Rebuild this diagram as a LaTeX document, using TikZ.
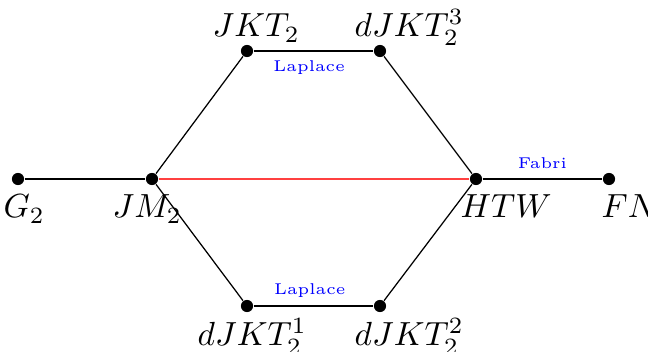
\documentclass[tikz,border=0pt]{standalone}
\usepackage{amsmath,amssymb}
\usepackage{tikz}
\usetikzlibrary{positioning,calc}
\usepackage{xcolor}
\tikzset{
  vertex/.style={circle,fill=black,inner sep=0pt,minimum size=3.9pt},
  vname/.style={inner sep=0pt,anchor=base west,scale=1.07,transform shape},
  elabel/.style={font=\tiny,text=blue,inner sep=0pt},
  every edge/.style={draw,line width=0.4pt},
}
\begin{document}
\begin{tikzpicture}[x=0.32pt,y=-0.32pt]
\useasboundingbox (0,0) rectangle (648,352);

\node[vertex] (G2) at (18,179) {};
\node[vertex] (JM2) at (152,179) {};
\node[vertex] (JKT2) at (247,51) {};
\node[vertex] (dJKT3) at (380,51) {};
\node[vertex] (HTW) at (476,179) {};
\node[vertex] (FN) at (609,179) {};
\node[vertex] (dJKT1) at (247,306) {};
\node[vertex] (dJKT2) at (380,306) {};

\node[vname] (lG2) at (3,218) {$G_2$};
\node[vname] (lJM2) at (112,218) {$JM_2$};
\node[vname] (lJKT2) at (212,37) {$JKT_2$};
\node[vname] (ldJKT3) at (354,37) {$dJKT_2^3$};
\node[vname] (lHTW) at (460,218) {$HTW$};
\node[vname] (lFN) at (601,218) {$FN$};
\node[vname] (ldJKT1) at (197,346) {$dJKT_2^1$};
\node[vname] (ldJKT2) at (354,346) {$dJKT_2^2$};

\path
(G2) edge (JM2)
(JM2) edge (JKT2)
(JKT2) edge node[elabel,midway,yshift=-5.4pt,xshift=-1.4pt] {Laplace} (dJKT3)
(dJKT3) edge (HTW)
(JM2) edge (dJKT1)
(dJKT1) edge node[elabel,midway,yshift=4.8pt,xshift=-1.2pt] {Laplace} (dJKT2)
(dJKT2) edge (HTW)
(HTW) edge node[elabel,midway,yshift=5.1pt] {Fabri} (FN)
(JM2) edge[red!75] (HTW);

\end{tikzpicture}
\end{document}
